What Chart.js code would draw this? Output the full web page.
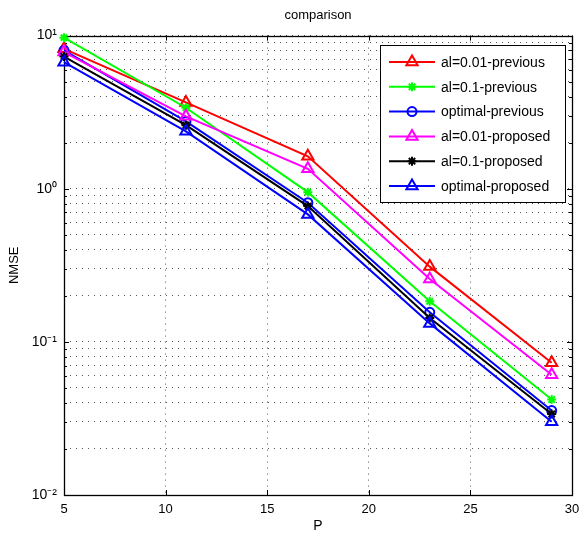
<!DOCTYPE html>
<html>
<head>
<meta charset="utf-8">
<script src="https://cdn.jsdelivr.net/npm/chart.js@4.4.0/dist/chart.umd.min.js"></script>
<style>
html, body { margin: 0; padding: 0; background: #fff; }
#wrap { width: 581px; height: 539px; }
</style>
</head>
<body>
<div id="wrap"><canvas id="myChart" width="581" height="539"></canvas></div>
<script>
// data
var P = [5, 11, 17, 23, 29];
var al001Previous = [8.2, 3.66, 1.63, 0.31, 0.073];
var al01Previous = [9.7, 3.38, 0.95, 0.184, 0.042];
var optimalPrevious = [8.0, 2.75, 0.81, 0.156, 0.0356];
var al001Proposed = [7.8, 2.97, 1.35, 0.257, 0.061];
var al01Proposed = [7.3, 2.6, 0.77, 0.143, 0.0338];
var optimalProposed = [6.7, 2.37, 0.68, 0.132, 0.0301];

var seriesNames = ['al=0.01-previous', 'al=0.1-previous', 'optimal-previous',
                   'al=0.01-proposed', 'al=0.1-proposed', 'optimal-proposed'];

var xTicks = [5, 10, 15, 20, 25, 30];
var yDecades = [0.01, 0.1, 1, 10];
var yDecadeLabels = ['10\u207B\u00B2', '10\u207B\u00B9', '10\u2070', '10\u00B9'];

// minor log ticks 1..9 per decade
var yTickValues = [];
for (var d = 0; d < yDecades.length - 1; d++) {
    for (var k = 1; k < 10; k++) {
        yTickValues.push(+(yDecades[d] * k).toPrecision(6));
    }
}
yTickValues.push(yDecades[yDecades.length - 1]);

Chart.defaults.font.family = '"Liberation Sans", Arial, Helvetica, sans-serif';
Chart.defaults.color = '#000';

function makeSet(label, values, color, style, radius, order) {
    return {
        label: label,
        data: P.map(function (p, i) { return { x: p, y: values[i] }; }),
        borderColor: color,
        backgroundColor: color,
        borderWidth: 2,
        pointStyle: style,
        pointRadius: radius,
        pointHoverRadius: radius,
        pointBorderColor: color,
        pointBackgroundColor: 'rgba(0,0,0,0)',
        pointBorderWidth: 2,
        tension: 0,
        fill: false,
        clip: false,
        order: order
    };
}

function drawMarker(ctx, ds, x, y) {
    ctx.save();
    ctx.strokeStyle = ds.pointBorderColor;
    ctx.fillStyle = ds.pointBackgroundColor;
    ctx.lineWidth = ds.pointBorderWidth;
    if (Chart.helpers && Chart.helpers.drawPoint) {
        Chart.helpers.drawPoint(ctx, {
            pointStyle: ds.pointStyle, radius: ds.pointRadius,
            rotation: 0, borderWidth: ds.pointBorderWidth
        }, x, y);
    }
    ctx.restore();
}

// axes box with inner tick marks, like matlab
var boxPlugin = {
    id: 'box',
    beforeDatasetsDraw: function (chart) {
        var ctx = chart.ctx, a = chart.chartArea;
        var xs = chart.scales.x, ys = chart.scales.y;
        ctx.save();
        ctx.strokeStyle = '#000';
        ctx.lineWidth = 1;
        ctx.setLineDash([]);
        ctx.beginPath();
        xTicks.forEach(function (v) {
            var px = Math.round(xs.getPixelForValue(v)) + 0.5;
            ctx.moveTo(px, a.bottom); ctx.lineTo(px, a.bottom - 5);
            ctx.moveTo(px, a.top); ctx.lineTo(px, a.top + 5);
        });
        ys.ticks.forEach(function (t) {
            var py = Math.round(ys.getPixelForValue(t.value)) + 0.5;
            var len = t.label ? 5 : 3;
            ctx.moveTo(a.left, py); ctx.lineTo(a.left + len, py);
            ctx.moveTo(a.right, py); ctx.lineTo(a.right - len, py);
        });
        ctx.stroke();
        ctx.lineWidth = 1.3;
        ctx.strokeRect(Math.round(a.left) + 0.5, Math.round(a.top) + 0.5,
                       Math.round(a.right - a.left), Math.round(a.bottom - a.top));
        ctx.restore();
    }
};

var legendPlugin = {
    id: 'insideLegend',
    afterDraw: function (chart) {
        var ctx = chart.ctx, a = chart.chartArea;
        var w = 185, h = 157;
        var x0 = Math.round(a.right) - 7 - w, y0 = Math.round(a.top) + 9;
        ctx.save();
        ctx.fillStyle = '#fff';
        ctx.fillRect(x0, y0, w, h);
        ctx.strokeStyle = '#000';
        ctx.lineWidth = 1;
        ctx.strokeRect(x0 + 0.5, y0 + 0.5, w, h);
        ctx.font = '14px "Liberation Sans", Arial, sans-serif';
        ctx.textBaseline = 'middle';
        ctx.textAlign = 'left';
        chart.data.datasets.forEach(function (ds, i) {
            var y = y0 + 17 + i * 24.8;
            ctx.strokeStyle = ds.borderColor;
            ctx.lineWidth = 2;
            ctx.beginPath();
            ctx.moveTo(x0 + 9, y);
            ctx.lineTo(x0 + 55, y);
            ctx.stroke();
            drawMarker(ctx, ds, x0 + 32, y);
            ctx.fillStyle = '#000';
            ctx.fillText(ds.label, x0 + 61, y + 1);
        });
        ctx.restore();
    }
};

var ctx = document.getElementById('myChart').getContext('2d');
var chart = new Chart(ctx, {
    type: 'line',
    data: {
        datasets: [
            makeSet(seriesNames[0], al001Previous, '#ff0000', 'triangle', 6.5, 6),
            makeSet(seriesNames[1], al01Previous, '#00ff00', 'star', 4.5, 5),
            makeSet(seriesNames[2], optimalPrevious, '#0000ff', 'circle', 4.5, 4),
            makeSet(seriesNames[3], al001Proposed, '#ff00ff', 'triangle', 6.5, 3),
            makeSet(seriesNames[4], al01Proposed, '#000000', 'star', 4.5, 2),
            makeSet(seriesNames[5], optimalProposed, '#0000ff', 'triangle', 6.5, 1)
        ]
    },
    options: {
        responsive: false,
        animation: false,
        layout: { padding: { left: 0, right: 9, top: 0, bottom: 0 } },
        plugins: {
            legend: { display: false },
            tooltip: { enabled: false },
            title: {
                display: true,
                text: 'comparison',
                fullSize: false,
                font: { size: 13, weight: 'normal' },
                color: '#000',
                padding: { top: 8, bottom: 12 }
            }
        },
        scales: {
            x: {
                type: 'linear',
                min: 5,
                max: 30,
                afterBuildTicks: function (scale) {
                    scale.ticks = xTicks.map(function (v) { return { value: v }; });
                },
                afterFit: function (scale) {
                    scale.height = 44;
                    scale.paddingLeft = 0;
                    scale.paddingRight = 0;
                },
                ticks: { font: { size: 13 }, color: '#000', padding: 7, autoSkip: false, maxRotation: 0 },
                grid: { color: '#555', borderDash: [1, 5], lineWidth: 1, drawTicks: false },
                border: { display: false, dash: [1, 5] },
                title: { display: true, text: 'P', font: { size: 14 }, color: '#000', padding: { top: 0, bottom: 4 } }
            },
            y: {
                type: 'logarithmic',
                min: 0.01,
                max: 10,
                afterBuildTicks: function (scale) {
                    scale.ticks = yTickValues.map(function (v) { return { value: v }; });
                },
                afterFit: function (scale) {
                    scale.width = 64;
                    scale.paddingTop = 0;
                    scale.paddingBottom = 0;
                },
                ticks: {
                    font: { size: 14 },
                    color: '#000',
                    padding: 7,
                    autoSkip: false,
                    callback: function (value) {
                        for (var i = 0; i < yDecades.length; i++) {
                            if (Math.abs(value - yDecades[i]) < yDecades[i] * 1e-6) return yDecadeLabels[i];
                        }
                        return '';
                    }
                },
                grid: { color: '#555', borderDash: [1, 5], lineWidth: 1, drawTicks: false },
                border: { display: false, dash: [1, 5] },
                title: { display: true, text: 'NMSE', font: { size: 13 }, color: '#000', padding: { top: 7, bottom: 0 } }
            }
        }
    },
    plugins: [boxPlugin, legendPlugin]
});
</script>
</body>
</html>
